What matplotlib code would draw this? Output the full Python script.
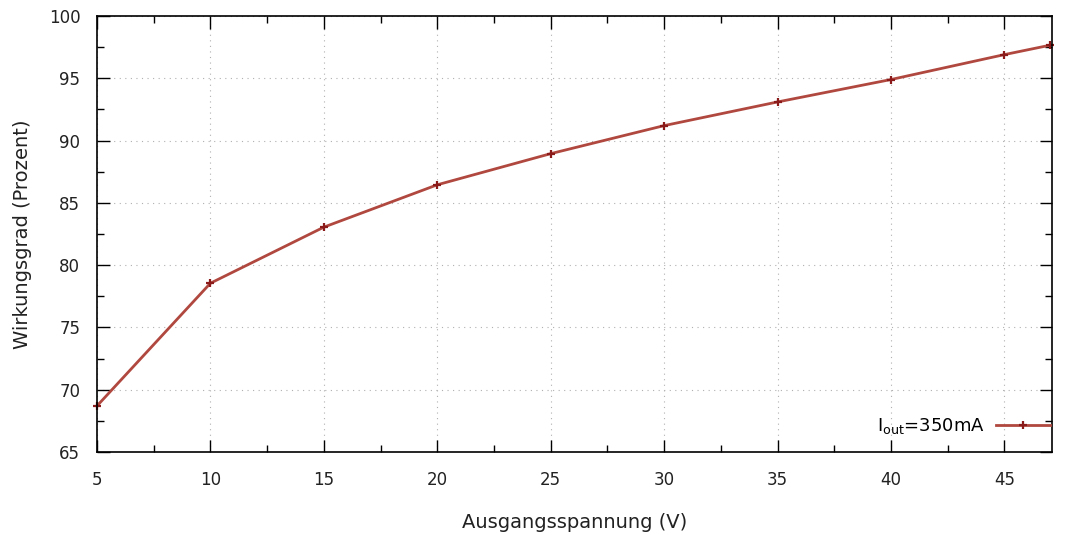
import matplotlib
matplotlib.use("Agg")
import matplotlib.pyplot as plt
from matplotlib.ticker import MultipleLocator

# Wirkungsgrad ueber Ausgangsspannung bei 350 mA
spannung = [5, 10, 15, 20, 25, 30, 35, 40, 45, 47]
wirkungsgrad = [68.7, 78.55, 83.05, 86.45, 88.95, 91.2, 93.1, 94.9, 96.9, 97.65]

plt.rcParams['font.family'] = ['DejaVu Sans']
plt.rcParams['font.size'] = 12

fig = plt.figure(figsize=(10.68, 5.35), dpi=100)
ax = fig.add_axes([97 / 1068, 1 - 452 / 535, (1052 - 97) / 1068, (452 - 16) / 535])

ax.plot(spannung, wirkungsgrad, color='#b0483f', lw=2, marker='+',
        markersize=6, markeredgewidth=1.6, markeredgecolor='#8b1a1a',
        label='I$_{\\mathregular{out}}$=350mA', clip_on=False)

ax.set_xlim(5, 47.1)
ax.set_ylim(65, 100)
ax.xaxis.set_major_locator(MultipleLocator(5))
ax.xaxis.set_minor_locator(MultipleLocator(2.5))
ax.yaxis.set_major_locator(MultipleLocator(5))
ax.yaxis.set_minor_locator(MultipleLocator(2.5))

ax.tick_params(which='both', direction='in', top=True, right=True, color='black',
               labelcolor='#222222')
ax.tick_params(which='major', length=9, width=1, pad=14)
ax.tick_params(axis='y', which='major', pad=12)
ax.tick_params(which='minor', length=5, width=1)
for s in ax.spines.values():
    s.set_linewidth(1.2)

ax.grid(True, which='major', color='#b0b0b0', linestyle=(0, (1, 4)), linewidth=0.8)

ax.set_xlabel('Ausgangsspannung (V)', labelpad=17, color='#222222', fontsize=14)
ax.set_ylabel('Wirkungsgrad (Prozent)', labelpad=12, color='#222222', fontsize=14)

leg = ax.legend(loc='lower right', bbox_to_anchor=(0.999, 0.035), frameon=False,
                markerfirst=False, handlelength=3.0, handletextpad=0.6,
                borderaxespad=0.0, borderpad=0.05, fontsize=13)

fig.savefig('out.png', dpi=100)
